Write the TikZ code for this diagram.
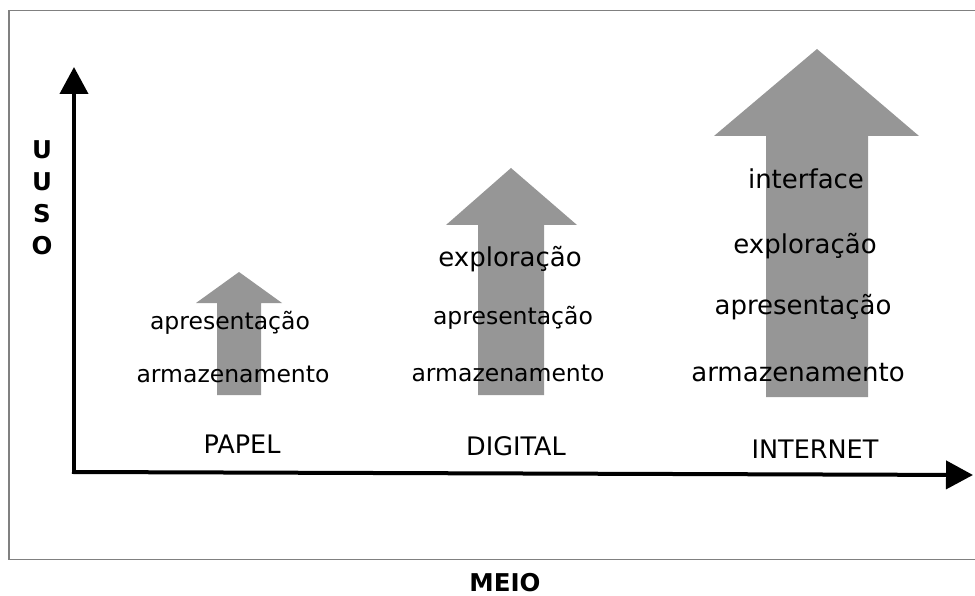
\documentclass[tikz,border=0pt]{standalone}
\usepackage{fontspec}
\setmainfont{DejaVu Sans}
\usepackage{xcolor}
\usetikzlibrary{arrows.meta}

\definecolor{framegray}{RGB}{128,128,128}
\definecolor{arrowgray}{RGB}{150,150,150}

\begin{document}
\begin{tikzpicture}[
        x=1pt, y=-1pt,
        frame/.style={draw=framegray, line width=1.5pt},
        axis/.style={line width=4pt, line cap=rect, -{Triangle[length=27pt,width=28pt]}},
        upwards/.style={fill=arrowgray},
        term/.style={font=\fontsize{23.5}{28}\selectfont, inner sep=0pt, anchor=base},
        bigterm/.style={font=\fontsize{26}{30}\selectfont, inner sep=0pt, anchor=base},
        medium/.style={font=\fontsize{25.5}{30}\selectfont, inner sep=0pt, anchor=base},
        axislabel/.style={font=\bfseries\fontsize{24.5}{32}\selectfont, inner sep=0pt, align=center}
    ]
        \useasboundingbox (0,0) rectangle (975,596);

        % Frame
        \draw[frame] (9,10.5) rectangle (990,559.5);

        % Arrows
        \fill[upwards] (217,395) -- (217,303) -- (196,303) -- (239,272) -- (282,303) -- (261,303) -- (261,395) -- cycle;
        \fill[upwards] (478,395) -- (478,225) -- (446,225) -- (511,168) -- (577,225) -- (544,225) -- (544,395) -- cycle;
        \fill[upwards] (766,397) -- (766,136) -- (714,136) -- (817,49) -- (919,136) -- (868,136) -- (868,397) -- cycle;

        % Axes
        \coordinate (origin) at (74,472);
        \coordinate (ytop) at (74,67);
        \coordinate (xend) at (973,475);
        \draw[axis] (origin) -- (ytop);
        \draw[axis] (origin) -- (xend);

        % Papel
        \node[term] (apres1) at (230,330) {apresentação};
        \node[term] (armaz1) at (233,382) {armazenamento};
        \node[medium] (papel) at (242,453) {PAPEL};

        % Digital
        \node[bigterm] (explor2) at (510,267) {exploração};
        \node[term] (apres2) at (513,324) {apresentação};
        \node[term] (armaz2) at (508,381) {armazenamento};
        \node[medium] (digital) at (516,455) {DIGITAL};

        % Internet
        \node[bigterm] (inter3) at (806,189) {interface};
        \node[bigterm] (explor3) at (805,254) {exploração};
        \node[bigterm] (apres3) at (803,315) {apresentação};
        \node[bigterm] (armaz3) at (798,381) {armazenamento};
        \node[medium] (internet) at (815,458) {INTERNET};

        % Axis labels
        \node[axislabel] (uso) at (42,197.5) {U\\U\\S\\O};
        \node[axislabel, anchor=base] (meio) at (505,591) {MEIO};
    \end{tikzpicture}
\end{document}
